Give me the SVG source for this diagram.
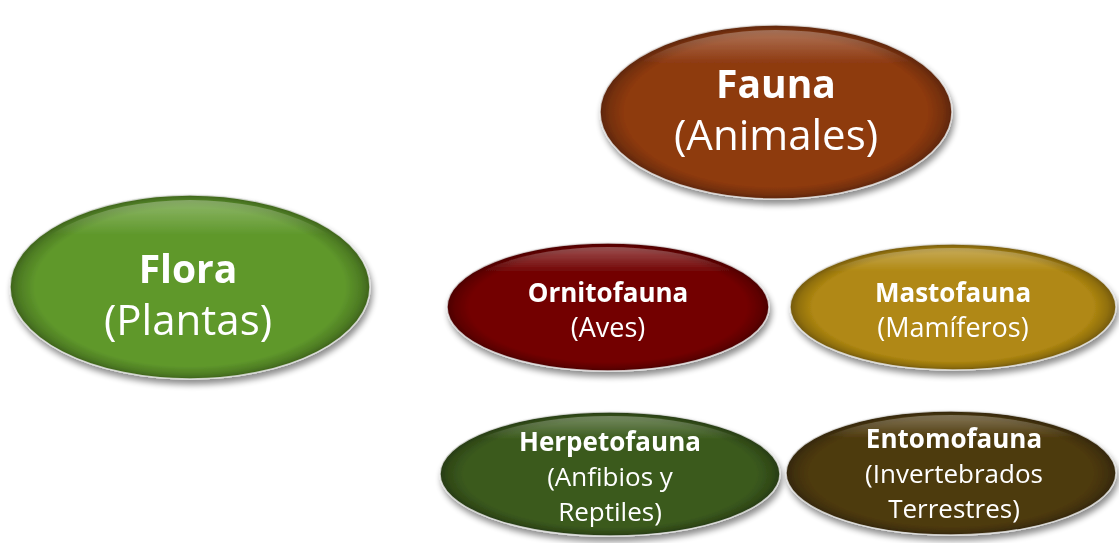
<svg xmlns="http://www.w3.org/2000/svg" width="1119" height="543" viewBox="0 0 1119 543">
<defs>
<filter id="sh" x="-10%" y="-10%" width="125%" height="135%">
<feGaussianBlur in="SourceAlpha" stdDeviation="3"/>
<feOffset dx="2" dy="5" result="b"/>
<feComponentTransfer><feFuncA type="linear" slope="0.45"/></feComponentTransfer>
<feMerge><feMergeNode/><feMergeNode in="SourceGraphic"/></feMerge>
</filter>
<radialGradient id="bev" cx="0.5" cy="0.5" r="0.5">
<stop offset="0.86" stop-color="#000" stop-opacity="0"/>
<stop offset="0.95" stop-color="#000" stop-opacity="0.18"/>
<stop offset="1" stop-color="#000" stop-opacity="0.35"/>
</radialGradient>
<linearGradient id="hl" x1="0" y1="0" x2="0" y2="1">
<stop offset="0" stop-color="#fff" stop-opacity="0.3"/>
<stop offset="0.2" stop-color="#fff" stop-opacity="0"/>
<stop offset="1" stop-color="#fff" stop-opacity="0"/>
</linearGradient>
</defs>
<style>
.rim{fill:url(#bev);stroke:#e8e8e8;stroke-width:1.5;stroke-opacity:0.8}
.top{fill:url(#hl)}
text{font-family:"Open Sans","Liberation Sans",sans-serif;fill:#fff;text-anchor:middle;font-variant-ligatures:none}
.b{font-weight:bold}
.LB{font-size:39px}
.L{font-size:42px}
.SB{font-size:26px}
.S{font-size:27px}
.M{font-size:26px}
</style>
<g id="fauna" filter="url(#sh)">
<ellipse cx="776" cy="112" rx="176" ry="87" fill="#8e3a11"/>
<ellipse class="rim" cx="776" cy="112" rx="176" ry="87"/>
<ellipse class="top" cx="776" cy="112" rx="170" ry="82"/>
<text class="b LB" x="776" y="98">Fauna</text>
<text class="L" x="776" y="150">(Animales)</text>
</g>
<g id="flora" filter="url(#sh)">
<ellipse cx="190" cy="287" rx="180" ry="92" fill="#5f982b"/>
<ellipse class="rim" cx="190" cy="287" rx="180" ry="92"/>
<ellipse class="top" cx="190" cy="287" rx="174" ry="87"/>
<text class="b LB" x="188" y="283">Flora</text>
<text class="L" x="188" y="335">(Plantas)</text>
</g>
<g id="ornitofauna" filter="url(#sh)">
<ellipse cx="608" cy="307" rx="161" ry="64" fill="#730606"/>
<ellipse class="rim" cx="608" cy="307" rx="161" ry="64"/>
<ellipse class="top" cx="608" cy="307" rx="155" ry="60"/>
<text class="b SB" x="608" y="302">Ornitofauna</text>
<text class="S" x="608" y="337">(Aves)</text>
</g>
<g id="mastofauna" filter="url(#sh)">
<ellipse cx="953" cy="307" rx="163" ry="63" fill="#b08812"/>
<ellipse class="rim" cx="953" cy="307" rx="163" ry="63"/>
<ellipse class="top" cx="953" cy="307" rx="157" ry="59"/>
<text class="b SB" x="953" y="302">Mastofauna</text>
<text class="S" x="953" y="337">(Mamíferos)</text>
</g>
<g id="herpetofauna" filter="url(#sh)">
<ellipse cx="610" cy="474" rx="170" ry="62" fill="#3b5a1d"/>
<ellipse class="rim" cx="610" cy="474" rx="170" ry="62"/>
<ellipse class="top" cx="610" cy="474" rx="164" ry="58"/>
<text class="b SB" x="610" y="451">Herpetofauna</text>
<text class="M" x="610" y="486">(Anfibios y</text>
<text class="M" x="610" y="521">Reptiles)</text>
</g>
<g id="entomofauna" filter="url(#sh)">
<ellipse cx="951" cy="473" rx="165" ry="62" fill="#4e3a0d"/>
<ellipse class="rim" cx="951" cy="473" rx="165" ry="62"/>
<ellipse class="top" cx="951" cy="473" rx="159" ry="58"/>
<text class="b SB" x="954" y="448">Entomofauna</text>
<text class="M" x="954" y="483">(Invertebrados</text>
<text class="M" x="954" y="518">Terrestres)</text>
</g>
<g id="connectors"/>
</svg>
